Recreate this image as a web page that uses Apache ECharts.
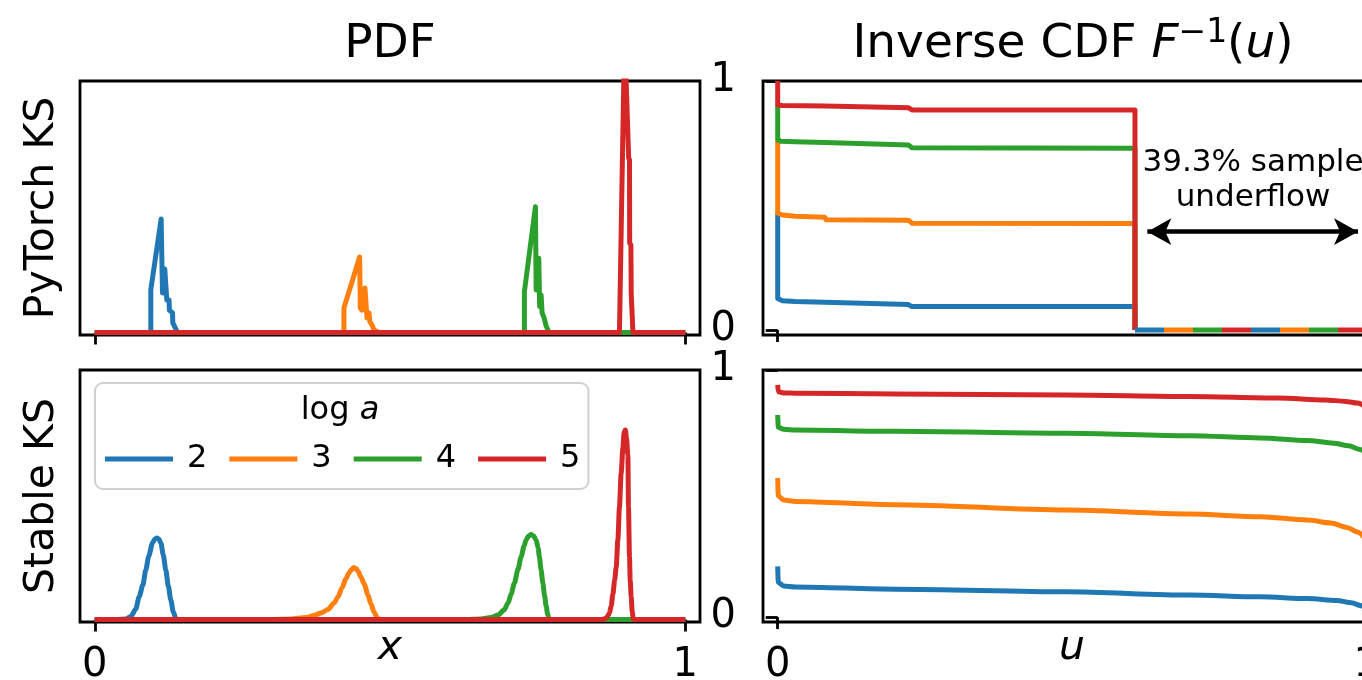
<!DOCTYPE html>
<html>
<head>
<meta charset="utf-8">
<script src="https://cdn.jsdelivr.net/npm/echarts@6/dist/echarts.min.js"></script>
<style>
html,body{margin:0;padding:0;background:#fff;}
#c{width:1362px;height:680px;}
</style>
</head>
<body>
<div id="c"></div>
<script>
// ---- data ----
const logA = ['2', '3', '4', '5'];
const palette = ['#1f77b4', '#ff7f0e', '#2ca02c', '#d62728'];
const xTicks = [0, 1];
const yTicks = [0, 1];

// PDF, PyTorch KS (x, density scaled)
const pdfTorch2 = [[0,0],[0.0949,0],[0.0949,0.169],[0.1124,0.451],[0.1147,0.157],[0.1178,0.157],[0.1186,0.252],[0.1212,0.252],[0.122,0.129],[0.1259,0.129],[0.1263,0.089],[0.1317,0.078],[0.1322,0.038],[0.1402,0],[1,0]];
const pdfTorch3 = [[0,0],[0.422,0],[0.422,0.097],[0.4486,0.300],[0.4497,0.097],[0.4525,0.089],[0.4576,0.177],[0.4602,0.177],[0.461,0.058],[0.4644,0.078],[0.4661,0.042],[0.4695,0.030],[0.4729,0.010],[0.4814,0],[1,0]];
const pdfTorch4 = [[0,0],[0.7276,0],[0.7276,0.162],[0.7463,0.500],[0.7475,0.169],[0.752,0.295],[0.7534,0.103],[0.7559,0.149],[0.7576,0.078],[0.761,0.058],[0.7644,0.026],[0.7695,0],[1,0]];
const pdfTorch5 = [[0,0],[0.8886,0],[0.8924,0.527],[0.8971,1.163],[0.9,0.996],[0.9042,0.694],[0.9056,0.686],[0.9059,0.356],[0.908,0.348],[0.9085,0.157],[0.9114,0],[1,0]];

// PDF, Stable KS
const pdfStable2 = [[0,0],[0.036,0],[0.0525,0.002],[0.061,0.012],[0.0695,0.042],[0.0751,0.090],[0.0814,0.138],[0.0864,0.198],[0.0915,0.255],[0.0978,0.307],[0.1017,0.323],[0.1051,0.327],[0.1085,0.323],[0.1119,0.307],[0.1161,0.259],[0.1203,0.198],[0.1246,0.134],[0.1288,0.078],[0.1331,0.030],[0.1373,0.004],[0.1407,0],[1,0]];
const pdfStable3 = [[0,0],[0.2983,0],[0.3322,0.002],[0.3576,0.008],[0.3712,0.016],[0.3831,0.026],[0.3949,0.040],[0.4051,0.066],[0.4119,0.090],[0.4186,0.126],[0.4254,0.164],[0.4305,0.186],[0.4339,0.198],[0.4385,0.208],[0.4424,0.204],[0.4458,0.194],[0.4508,0.170],[0.4564,0.142],[0.4627,0.098],[0.4678,0.062],[0.4729,0.030],[0.4792,0.004],[0.4831,0],[1,0]];
const pdfStable4 = [[0,0],[0.6288,0],[0.6542,0.002],[0.6712,0.008],[0.6831,0.018],[0.6932,0.038],[0.7,0.066],[0.7051,0.102],[0.7107,0.146],[0.7169,0.202],[0.722,0.251],[0.7271,0.295],[0.7305,0.319],[0.7347,0.335],[0.739,0.341],[0.7432,0.335],[0.7475,0.319],[0.7508,0.287],[0.753,0.251],[0.7559,0.198],[0.7588,0.146],[0.7619,0.094],[0.7644,0.054],[0.7669,0.022],[0.7695,0.002],[0.7729,0],[1,0]];
const pdfStable5 = [[0,0],[0.8576,0],[0.8627,0.002],[0.8678,0.010],[0.8717,0.026],[0.8746,0.054],[0.8775,0.102],[0.8805,0.158],[0.8831,0.210],[0.8859,0.319],[0.8886,0.451],[0.8915,0.587],[0.8944,0.687],[0.8966,0.752],[0.8986,0.760],[0.9005,0.727],[0.9029,0.659],[0.9039,0.451],[0.9056,0.251],[0.9068,0.158],[0.9085,0.090],[0.9102,0.030],[0.9119,0.002],[0.9153,0],[1,0]];

// Inverse CDF, PyTorch KS (u, F^-1(u))
const icdfTorch2 = [[0,0.469],[0,0.127],[0.008,0.118],[0.03,0.115],[0.08,0.112],[0.082,0.104],[0.222,0.102],[0.228,0.094],[0.607,0.094],[0.607,0]];
const icdfTorch3 = [[0,0.765],[0,0.469],[0.008,0.462],[0.03,0.457],[0.08,0.453],[0.082,0.443],[0.222,0.441],[0.228,0.429],[0.607,0.428],[0.607,0]];
const icdfTorch4 = [[0,0.904],[0,0.765],[0.005,0.758],[0.03,0.756],[0.08,0.753],[0.082,0.745],[0.222,0.743],[0.228,0.732],[0.607,0.730],[0.607,0]];
const icdfTorch5 = [[0,1.0],[0,0.904],[0.008,0.902],[0.08,0.900],[0.082,0.897],[0.222,0.893],[0.228,0.884],[0.607,0.884],[0.607,0]];
const underflowSpan = [[0.607,0],[1,0]];
const underflowShare = 0.393;
const arrowSpan = [0.628, 0.986];
const arrowLevel = 0.395;

// Inverse CDF, Stable KS
const icdfStable2 = [[0,0.205],[0.001,0.14],[0.01,0.126],[0.03,0.122],[0.2,0.113],[0.49,0.102],[0.7,0.089],[0.82,0.082],[0.9,0.075],[0.95,0.067],[0.975,0.058],[0.99,0.047],[1,0.03]];
const icdfStable3 = [[0,0.563],[0.001,0.49],[0.01,0.474],[0.03,0.468],[0.2,0.455],[0.49,0.433],[0.7,0.417],[0.82,0.406],[0.9,0.393],[0.94,0.381],[0.967,0.363],[0.985,0.344],[1,0.31]];
const icdfStable4 = [[0,0.818],[0.001,0.768],[0.01,0.76],[0.03,0.757],[0.2,0.752],[0.49,0.744],[0.7,0.734],[0.82,0.725],[0.9,0.715],[0.945,0.704],[0.97,0.693],[0.99,0.678],[1,0.66]];
const icdfStable5 = [[0,0.94],[0.001,0.912],[0.01,0.907],[0.03,0.906],[0.2,0.903],[0.49,0.899],[0.7,0.893],[0.85,0.887],[0.93,0.879],[0.965,0.873],[0.985,0.866],[1,0.85]];

// ---- chart ----
const FONT = 'DejaVu Sans';
const LW = 5;
const chart = echarts.init(document.getElementById('c'), null, {renderer: 'canvas'});

const grids = [
  {left: 80, top: 81, width: 620, height: 254},
  {left: 763, top: 81, width: 618, height: 254},
  {left: 80, top: 370, width: 620, height: 252},
  {left: 763, top: 370, width: 618, height: 252}
].map(g => Object.assign({show: true, borderColor: '#000', borderWidth: 2.8, backgroundColor: 'transparent', containLabel: false, outerBoundsMode: 'none'}, g));

function xAx(i, showLabels) {
  return {
    type: 'value', gridIndex: i, min: -0.025, max: 1.025,
    axisLine: {show: false}, splitLine: {show: false},
    axisTick: {show: true, customValues: xTicks, length: 12, lineStyle: {color: '#000', width: 2.8}},
    axisLabel: {show: showLabels, customValues: xTicks, color: '#000', fontSize: 40, fontFamily: FONT, margin: 24}
  };
}
function yAx(i, ticks, min) {
  return {
    type: 'value', gridIndex: i, min: min, max: 1,
    axisLine: {show: false}, splitLine: {show: false},
    axisTick: {show: ticks, customValues: yTicks, length: 12, lineStyle: {color: '#000', width: 2.8}},
    axisLabel: {show: ticks, customValues: yTicks, color: '#000', fontSize: 40, fontFamily: FONT, margin: 27}
  };
}

const xAxis = [xAx(0, false), xAx(1, false), xAx(2, true), xAx(3, true)];
const yAxis = [yAx(0, false, -0.01), yAx(1, true, -0.02), yAx(2, false, -0.01), yAx(3, true, -0.02)];

function ln(k, data, gi, extra) {
  return Object.assign({
    type: 'line', name: logA[k], data: data, xAxisIndex: gi, yAxisIndex: gi,
    symbol: 'none', showSymbol: false, clip: true, animation: false, silent: true,
    itemStyle: {color: palette[k]},
    lineStyle: {color: palette[k], width: LW, join: 'round'},
    emphasis: {disabled: true}
  }, extra || {});
}

const series = [];
const torchPdf = [pdfTorch2, pdfTorch3, pdfTorch4, pdfTorch5];
const stablePdf = [pdfStable2, pdfStable3, pdfStable4, pdfStable5];
const torchIcdf = [icdfTorch2, icdfTorch3, icdfTorch4, icdfTorch5];
const stableIcdf = [icdfStable2, icdfStable3, icdfStable4, icdfStable5];
for (let k = 0; k < 4; k++) series.push(ln(k, torchPdf[k], 0));
for (let k = 0; k < 4; k++) series.push(ln(k, stablePdf[k], 2, {smooth: 0.25, smoothMonotone: 'x'}));
for (let k = 0; k < 4; k++) series.push(ln(k, torchIcdf[k], 1));
const dashOffsets = [0, 87, 58, 29];
for (let k = 0; k < 4; k++) {
  series.push(ln(k, underflowSpan, 1, {
    lineStyle: {color: palette[k], width: LW, type: [29, 87], dashOffset: dashOffsets[k], cap: 'butt'}
  }));
}
for (let k = 0; k < 4; k++) series.push(ln(k, stableIcdf[k], 3, {smooth: 0.3, smoothMonotone: 'x'}));

// arrow annotation
series.push({
  type: 'line', name: 'arrow', data: [], xAxisIndex: 1, yAxisIndex: 1, symbol: 'none', silent: true, animation: false,
  markLine: {
    silent: true, animation: false, symbol: ['arrow', 'arrow'], symbolSize: [20, 24],
    label: {show: false},
    lineStyle: {color: '#000', width: 4.5, type: 'solid'},
    emphasis: {disabled: true},
    data: [[{coord: [arrowSpan[0], arrowLevel]}, {coord: [arrowSpan[1], arrowLevel]}]]
  }
});

const pct = (underflowShare * 100).toFixed(1) + '% sample';
const centered = {align: 'center', verticalAlign: 'middle', textAlign: 'center', textVerticalAlign: 'middle'};

const option = {
  animation: false,
  backgroundColor: '#fff',
  grid: grids,
  xAxis: xAxis,
  yAxis: yAxis,
  legend: {
    data: logA,
    selectedMode: false,
    left: 95, top: 383,
    orient: 'horizontal',
    icon: 'rect', itemWidth: 68, itemHeight: 5, itemGap: 22,
    padding: [60, 8, 14, 10],
    borderColor: '#d0d0d0', borderWidth: 2, borderRadius: 8,
    backgroundColor: 'rgba(255,255,255,0.8)',
    textStyle: {fontSize: 32, fontFamily: FONT, color: '#000', padding: [0, 0, 0, 9]}
  },
  graphic: [
    {type: 'text', x: 390, y: 45, silent: true,
     style: Object.assign({text: 'PDF', fontSize: 47, fontFamily: FONT, fill: '#000'}, centered)},
    {type: 'text', x: 1073, y: 45, silent: true,
     style: Object.assign({
       text: '{n|Inverse CDF }{i|F}{s|\u22121}{n|(}{i|u}{n|)}',
       rich: {
         n: {fontSize: 47, fontFamily: FONT, fill: '#000', color: '#000', lineHeight: 56, verticalAlign: 'middle'},
         i: {fontSize: 47, fontFamily: FONT, fontStyle: 'italic', fill: '#000', color: '#000', lineHeight: 56, verticalAlign: 'middle'},
         s: {fontSize: 33, fontFamily: FONT, fill: '#000', color: '#000', lineHeight: 33, verticalAlign: 'top'}
       }
     }, centered)},
    {type: 'text', x: 42, y: 208, rotation: Math.PI / 2, silent: true,
     style: Object.assign({text: 'PyTorch KS', fontSize: 41, fontFamily: FONT, fill: '#000'}, centered)},
    {type: 'text', x: 42, y: 496, rotation: Math.PI / 2, silent: true,
     style: Object.assign({text: 'Stable KS', fontSize: 41, fontFamily: FONT, fill: '#000'}, centered)},
    {type: 'text', x: 390, y: 648, silent: true,
     style: Object.assign({text: 'x', fontSize: 41, fontFamily: FONT, fontStyle: 'italic', fill: '#000'}, centered)},
    {type: 'text', x: 1072, y: 648, silent: true,
     style: Object.assign({text: 'u', fontSize: 41, fontFamily: FONT, fontStyle: 'italic', fill: '#000'}, centered)},
    {type: 'text', x: 1253, y: 163, silent: true, z: 10,
     style: Object.assign({text: pct, fontSize: 31, fontFamily: FONT, fill: '#000'}, centered)},
    {type: 'text', x: 1253, y: 198, silent: true, z: 10,
     style: Object.assign({text: 'underflow', fontSize: 31, fontFamily: FONT, fill: '#000'}, centered)},
    {type: 'text', x: 340, y: 411, silent: true, z: 100,
     style: Object.assign({
       text: '{n|log }{i|a}',
       rich: {
         n: {fontSize: 32, fontFamily: FONT, fill: '#000', color: '#000'},
         i: {fontSize: 32, fontFamily: FONT, fontStyle: 'italic', fill: '#000', color: '#000'}
       }
     }, centered)}
  ],
  series: series
};
chart.setOption(option);
</script>
</body>
</html>
